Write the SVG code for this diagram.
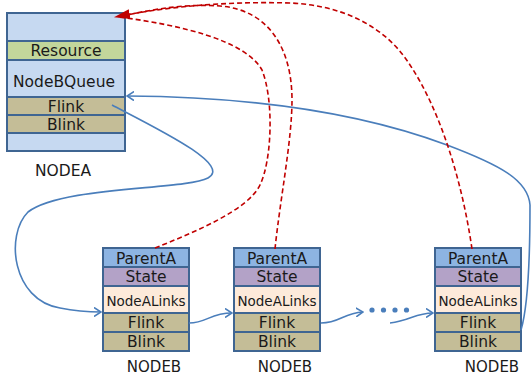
<svg xmlns="http://www.w3.org/2000/svg" width="531" height="376" viewBox="0 0 531 376">
<style>
.box{stroke:#3F6592;stroke-width:2}
.bg{fill:#C6D9F1}.res{fill:#C3D69B}.lnk{fill:#C4BD97}.par{fill:#8DB4E2}.st{fill:#B3A2C7}.nal{fill:#FDEADA}
text{font-family:"DejaVu Sans","Liberation Sans",sans-serif;font-size:15.5px;fill:#1a1a1a;text-anchor:middle}
.sm{font-size:13.5px}
.lbl{font-size:15px}
.blue{fill:none;stroke:#4A7EBB;stroke-width:1.6}
.red{fill:none;stroke:#C00000;stroke-width:1.6;stroke-dasharray:5 3}
</style>
<defs>
<marker id="ra" viewBox="0 0 16 10" refX="15" refY="5" markerWidth="16" markerHeight="10" markerUnits="userSpaceOnUse" orient="auto">
<path d="M0,0 L16,5 L0,10 Z" fill="#C00000"/>
</marker>
<marker id="ba" viewBox="0 0 8 10" refX="7" refY="5" markerWidth="8" markerHeight="10" markerUnits="userSpaceOnUse" orient="auto">
<path d="M0,0.5 L7,5 L0,9.5" fill="none" stroke="#4A7EBB" stroke-width="1.6"/>
</marker>
</defs>

<g id="nodea">
<rect class="box bg" x="7" y="13" width="118" height="138"/>
<rect class="box res" x="7" y="41" width="118" height="19"/>
<rect class="box lnk" x="7" y="97" width="118" height="18"/>
<rect class="box lnk" x="7" y="115" width="118" height="18"/>
<text x="66" y="56">Resource</text>
<text x="64" y="87">NodeBQueue</text>
<text x="66" y="112">Flink</text>
<text x="66" y="130">Blink</text>
<text x="63" y="176">NODEA</text>
</g>

<g id="nodeb1">
<rect class="box par" x="103" y="248" width="86" height="19"/>
<rect class="box st" x="103" y="267" width="86" height="19"/>
<rect class="box nal" x="103" y="286" width="86" height="27"/>
<rect class="box lnk" x="103" y="313" width="86" height="19"/>
<rect class="box lnk" x="103" y="332" width="86" height="19"/>
<text x="146" y="264">ParentA</text>
<text x="146" y="282">State</text>
<text class="sm" x="146" y="306">NodeALinks</text>
<text x="146" y="328">Flink</text>
<text x="146" y="347">Blink</text>
<text class="lbl" x="154" y="372">NODEB</text>
</g>

<g id="nodeb2">
<rect class="box par" x="234" y="248" width="86" height="19"/>
<rect class="box st" x="234" y="267" width="86" height="19"/>
<rect class="box nal" x="234" y="286" width="86" height="27"/>
<rect class="box lnk" x="234" y="313" width="86" height="19"/>
<rect class="box lnk" x="234" y="332" width="86" height="19"/>
<text x="277" y="264">ParentA</text>
<text x="277" y="282">State</text>
<text class="sm" x="277" y="306">NodeALinks</text>
<text x="277" y="328">Flink</text>
<text x="277" y="347">Blink</text>
<text class="lbl" x="285" y="372">NODEB</text>
</g>

<g id="nodeb3">
<rect class="box par" x="435" y="248" width="86" height="19"/>
<rect class="box st" x="435" y="267" width="86" height="19"/>
<rect class="box nal" x="435" y="286" width="86" height="27"/>
<rect class="box lnk" x="435" y="313" width="86" height="19"/>
<rect class="box lnk" x="435" y="332" width="86" height="19"/>
<text x="478" y="264">ParentA</text>
<text x="478" y="282">State</text>
<text class="sm" x="478" y="306">NodeALinks</text>
<text x="478" y="328">Flink</text>
<text x="478" y="347">Blink</text>
<text class="lbl" x="492" y="372">NODEB</text>
</g>

<g id="ellipsis" fill="#4A7EBB">
<circle cx="372" cy="310" r="2.6"/>
<circle cx="383.5" cy="310" r="2.6"/>
<circle cx="395" cy="310" r="2.6"/>
<circle cx="406.5" cy="310" r="2.6"/>
</g>

<g id="connectors">
<path class="blue" d="M112,105 C160,130 232,165 208,178 C185,190 62,186 28,212 C5,235 12,300 60,308 C75,311 88,312 101,312" marker-end="url(#ba)"/>
<path class="blue" d="M189,323 C207,323 210,313 232,313" marker-end="url(#ba)"/>
<path class="blue" d="M321,323 C340,323 343,313 363,312" marker-end="url(#ba)"/>
<path class="blue" d="M390,323 C410,321 415,313 433,313" marker-end="url(#ba)"/>
<path class="blue" d="M521,330 C530,300 530,230 530,205 C528,180 500,165 447,145 C380,120 280,97 127,96" marker-end="url(#ba)"/>
<path class="red" d="M155,248 C195,232 248,210 260,185 C272,160 274,100 262,70 C245,40 180,25 119,17"/>
<path class="red" d="M275,249 C280,200 292,140 292,100 C292,50 270,10 220,6 C180,3 140,12 119,17"/>
<path class="red" d="M472,249 C462,180 440,110 410,65 C385,25 340,5 290,3 C220,1 160,8 115,17" marker-end="url(#ra)"/>
</g>
</svg>
